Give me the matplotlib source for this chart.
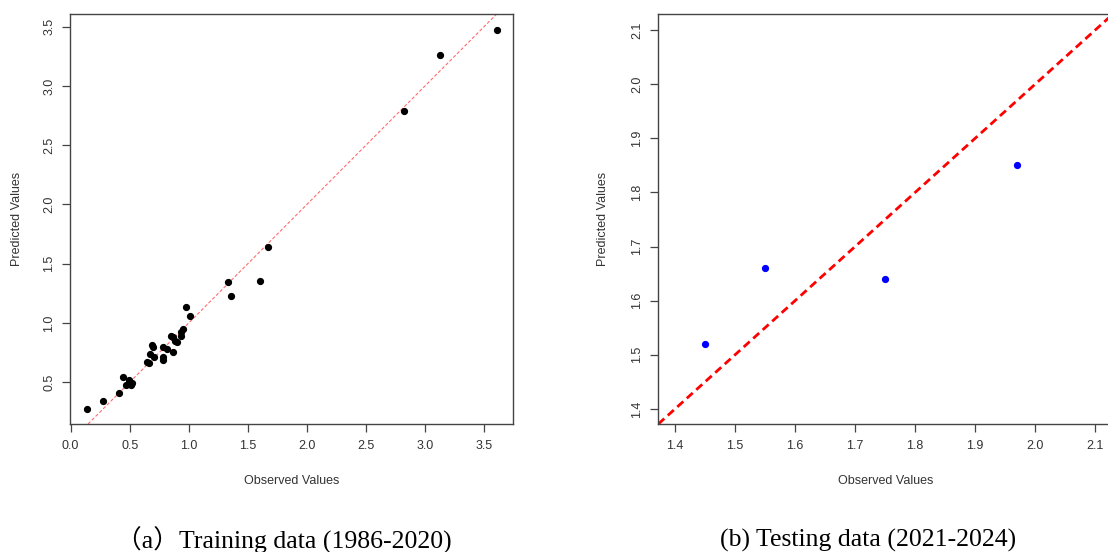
import matplotlib
matplotlib.use("Agg")
import matplotlib.pyplot as plt

# Training data (1986-2020)
train_obs = [0.141, 0.276, 0.408, 0.442, 0.473, 0.495, 0.509, 0.518, 0.647, 0.661,
             0.673, 0.687, 0.695, 0.709, 0.780, 0.785, 0.785, 0.813, 0.847, 0.864,
             0.867, 0.887, 0.898, 0.934, 0.937, 0.951, 0.979, 1.013, 1.334, 1.357,
             1.601, 1.668, 2.825, 3.125, 3.612]
train_pred = [0.278, 0.345, 0.410, 0.545, 0.475, 0.517, 0.475, 0.497, 0.669, 0.661,
              0.737, 0.815, 0.796, 0.711, 0.686, 0.717, 0.801, 0.782, 0.894, 0.754,
              0.880, 0.852, 0.844, 0.889, 0.925, 0.953, 1.134, 1.063, 1.342, 1.224,
              1.356, 1.643, 2.789, 3.258, 3.475]

# Testing data (2021-2024)
test_obs = [1.45, 1.55, 1.75, 1.97]
test_pred = [1.52, 1.66, 1.64, 1.85]

train_xticks = [0.0, 0.5, 1.0, 1.5, 2.0, 2.5, 3.0, 3.5]
train_yticks = [0.5, 1.0, 1.5, 2.0, 2.5, 3.0, 3.5]
test_ticks = [1.4, 1.5, 1.6, 1.7, 1.8, 1.9, 2.0, 2.1]

caption_a = "（a）Training data (1986-2020)"
caption_b = "(b) Testing data (2021-2024)"

TXT = "#333333"
SPN = "#444444"

fig = plt.figure(figsize=(11.08, 5.52), dpi=100)
plt.rcParams['font.family'] = ['Liberation Sans', 'DejaVu Sans']

ax1 = fig.add_axes([70/1108, 1-424/552, (513-70)/1108, (424-14)/552])
ax2 = fig.add_axes([657.7/1108, 1-424/552, (1113-657.7)/1108, (424-14)/552])

def style(ax):
    for s in ax.spines.values():
        s.set_color(SPN)
        s.set_linewidth(1.0)
    ax.tick_params(direction='out', length=5.5, width=0.9, color=SPN,
                   labelcolor=TXT, labelsize=9)
    ax.tick_params(axis='x', pad=6)
    ax.tick_params(axis='y', pad=5)
    for lab in ax.get_yticklabels():
        lab.set_rotation(90)
        lab.set_va('center')

# Left panel
ax1.axline((0, 0), slope=1, color='#FF6E6E', lw=0.8, linestyle=(0, (3, 1.8)), zorder=1)
ax1.plot(train_obs, train_pred, 'o', color='black', ms=4.2, zorder=2)
ax1.set_xlim(-0.005, 3.745)
ax1.set_ylim(0.148, 3.607)
ax1.set_xticks(train_xticks)
ax1.set_xticklabels([f"{v:.1f}" for v in train_xticks])
ax1.set_yticks(train_yticks)
ax1.set_yticklabels([f"{v:.1f}" for v in train_yticks])
ax1.set_xlabel("Observed Values", fontsize=9, color=TXT)
ax1.set_ylabel("Predicted Values", fontsize=9, color=TXT)
style(ax1)
ax1.xaxis.set_label_coords(0.5, -0.124)
ax1.yaxis.set_label_coords(-0.106, 0.5)

# Right panel
ax2.axline((1.4, 1.4), slope=1, color='#FF0000', lw=2, linestyle=(0, (2.9, 1.7)), zorder=1)
ax2.plot(test_obs, test_pred, 'o', color='#0000FF', ms=4.2, zorder=2)
ax2.set_xlim(1.371, 2.13)
ax2.set_ylim(1.372, 2.13)
ax2.set_xticks(test_ticks)
ax2.set_xticklabels([f"{v:.1f}" for v in test_ticks])
ax2.set_yticks(test_ticks)
ax2.set_yticklabels([f"{v:.1f}" for v in test_ticks])
ax2.set_xlabel("Observed Values", fontsize=9, color=TXT)
ax2.set_ylabel("Predicted Values", fontsize=9, color=TXT)
style(ax2)
ax2.xaxis.set_label_coords(0.5, -0.124)
ax2.yaxis.set_label_coords(-0.107, 0.5)

fig.text(0.2565, 1-540/552, caption_a, ha='center', va='center', fontsize=18.5,
         family=['Liberation Serif', 'Noto Sans CJK SC'], color='black')
fig.text(0.7834, 1-540/552, caption_b, ha='center', va='center', fontsize=18.5,
         family=['Liberation Serif', 'Noto Sans CJK SC'], color='black')

fig.savefig("out.png", dpi=100)
